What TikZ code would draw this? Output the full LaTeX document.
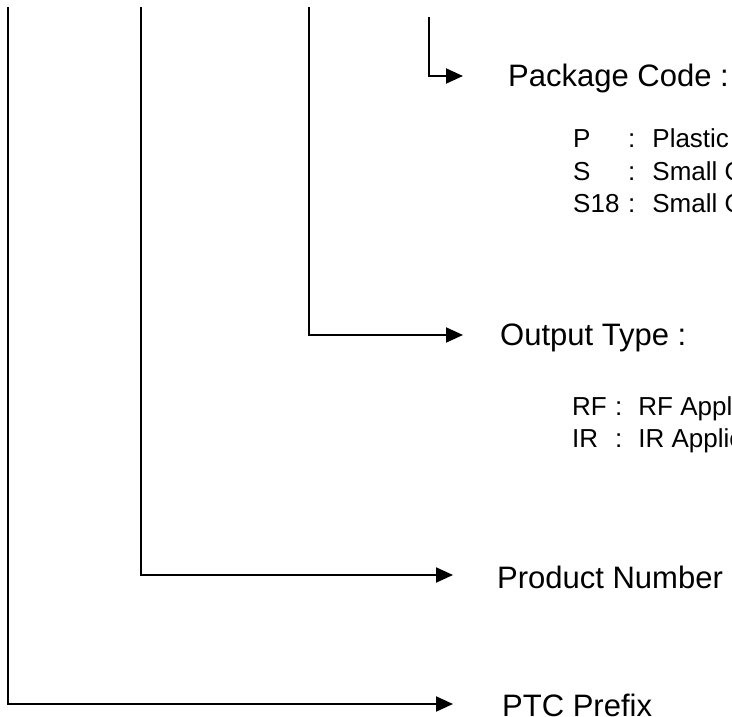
\documentclass[tikz,border=0pt]{standalone}
\usepackage{fontspec}
\setmainfont{Liberation Sans}
\usetikzlibrary{arrows.meta,calc}
\begin{document}
\begin{tikzpicture}[x=1pt,y=-1pt,
  conn/.style={line width=2pt, -{Triangle[length=17pt,width=15pt]}},
  title/.style={anchor=west, inner sep=0pt, font=\fontsize{31}{36}\selectfont},
  item/.style={anchor=base west, inner sep=0pt, font=\fontsize{26}{30}\selectfont}]
\useasboundingbox (0,0) rectangle (732,717);
\fill[white] (0,0) rectangle (732,717);
\clip (0,0) rectangle (732,717);
% headings
\node[title] (pkg) at (508,78) {Package Code :};
\node[title] (out) at (500,338) {Output Type :};
\node[title] (num) at (497,577) {Product Number};
\node[title] (ptc) at (502,705) {PTC Prefix};
% package code items
\node[item] (p1) at (573,148) {\makebox[55pt][l]{P}:\hspace{17pt}Plastic DIP};
\node[item] (p2) at (573,180) {\makebox[55pt][l]{S}:\hspace{17pt}Small Outline};
\node[item] (p3) at (573,212) {\makebox[55pt][l]{S18}:\hspace{17pt}Small Outline};
% output type items
\node[item] (o1) at (572,415) {\makebox[43pt][l]{RF}:\hspace{16pt}RF Application};
\node[item] (o2) at (572,447) {\makebox[43pt][l]{IR}:\hspace{16pt}IR Application};
% connector ends
\coordinate (top1) at (8,7);
\coordinate (top2) at (141,7);
\coordinate (top3) at (309,7);
\coordinate (top4) at (429,17);
\coordinate (tip1) at (453,704);
\coordinate (tip2) at (453,575);
\coordinate (tip3) at (463,335);
\coordinate (tip4) at (463,76);
\draw[conn] (top1) |- (tip1);
\draw[conn] (top2) |- (tip2);
\draw[conn] (top3) |- (tip3);
\draw[conn] (top4) |- (tip4);
\end{tikzpicture}
\end{document}
